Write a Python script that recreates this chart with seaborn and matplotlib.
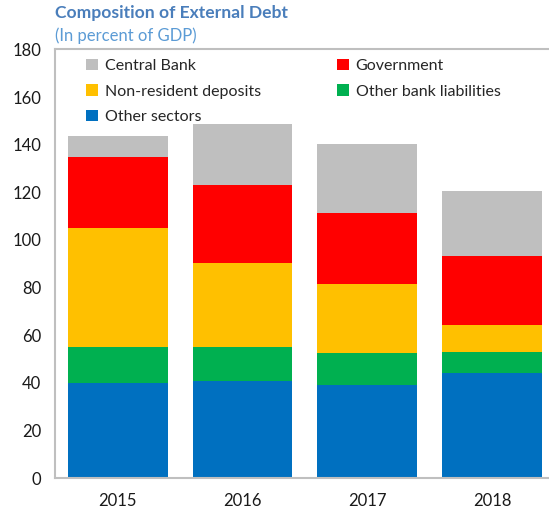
import numpy as np
import pandas as pd
import matplotlib
matplotlib.use("Agg")
import matplotlib.pyplot as plt
import seaborn as sns
from matplotlib.patches import Patch

years = ["2015", "2016", "2017", "2018"]
other_sectors = [40.0, 40.6, 39.1, 44.0]
other_bank = [15.1, 14.5, 13.4, 9.1]
non_resident = [49.9, 35.4, 28.8, 11.3]
government = [30.0, 32.7, 30.1, 28.7]
central_bank = [8.7, 25.7, 28.9, 27.4]

series = ["Other sectors", "Other bank liabilities", "Non-resident deposits",
          "Government", "Central Bank"]
colors = {
    "Other sectors": "#0070C0",
    "Other bank liabilities": "#00B050",
    "Non-resident deposits": "#FFC000",
    "Government": "#FF0000",
    "Central Bank": "#BFBFBF",
}

df = pd.DataFrame({
    "year": years,
    "Other sectors": other_sectors,
    "Other bank liabilities": other_bank,
    "Non-resident deposits": non_resident,
    "Government": government,
    "Central Bank": central_bank,
})
cum = df[series].cumsum(axis=1)
cum["year"] = df["year"]

sns.set_style("white")
plt.rcParams["font.family"] = ["Lato", "DejaVu Sans"]

fig = plt.figure(figsize=(5.49, 5.14), dpi=100)
ax = fig.add_axes([0.1002, 0.070, 0.9107, 0.8337])

# stacked bars: draw cumulative totals from the top layer down
for name in reversed(series):
    sns.barplot(data=cum, x="year", y=name, color=colors[name], width=0.8,
                saturation=1, linewidth=0, ax=ax)

ax.set_xlim(-0.5, 3.5)
ax.set_ylim(0, 180)
ax.set_yticks(np.arange(0, 181, 20))
ax.set_xlabel("")
ax.set_ylabel("")

grey = "#BFBFBF"
for s in ax.spines.values():
    s.set_visible(True)
    s.set_color(grey)
    s.set_linewidth(1.5)

ax.tick_params(axis="y", direction="in", length=5, color=grey, width=1,
               labelsize=12, pad=10, labelcolor="#1a1a1a")
ax.set_xticks([0.5, 1.5, 2.5], minor=True)
ax.tick_params(axis="x", which="major", length=0, labelsize=12, pad=11,
               labelcolor="#1a1a1a")
ax.tick_params(axis="x", which="minor", direction="in", length=5, color=grey, width=1)

order = ["Central Bank", "Non-resident deposits", "Other sectors",
         "Government", "Other bank liabilities"]
handles = [Patch(facecolor=colors[n], edgecolor="none") for n in order]
ax.legend(handles, order, ncol=2, loc="upper left", bbox_to_anchor=(0.04, 1.005),
          frameon=False, fontsize=11.5, handlelength=0.75, handleheight=0.75,
          handletextpad=0.4, columnspacing=4.8, labelspacing=0.7,
          borderaxespad=0.3)

fig.text(55 / 549, 1 - 13 / 514, "Composition of External Debt", fontsize=12.6,
         fontweight="bold", color="#4A7EBB", va="center", ha="left")
fig.text(55 / 549, 1 - 36 / 514, "(In percent of GDP)", fontsize=12,
         color="#5B9BD5", va="center", ha="left")

fig.savefig("out.png", dpi=100)
